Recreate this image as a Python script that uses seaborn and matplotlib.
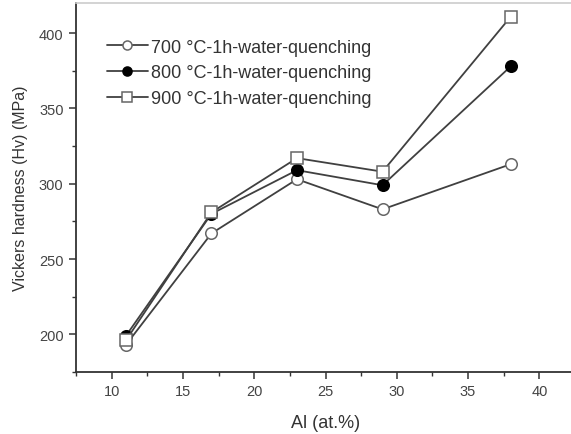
import matplotlib
matplotlib.use("Agg")
import matplotlib.pyplot as plt
from matplotlib.ticker import MultipleLocator
import seaborn as sns
import pandas as pd

al = [11, 17, 23, 29, 38]
hv_700 = [193, 267, 303, 283, 313]
hv_800 = [199, 280, 309, 299, 378]
hv_900 = [196, 281, 317, 308, 411]
labels = ["700 \u00b0C-1h-water-quenching",
          "800 \u00b0C-1h-water-quenching",
          "900 \u00b0C-1h-water-quenching"]

sns.set_theme(style="white")
plt.rcParams['font.family'] = ['Liberation Sans', 'DejaVu Sans']

fig = plt.figure(figsize=(5.71, 4.35), dpi=100)
ax = fig.add_axes([76/571, 1-373/435, (575-76)/571, (373-4)/435])

line_c = "#404040"
edge_c = "#666666"
specs = [
    ("o", "white", edge_c),
    ("o", "black", "black"),
    ("s", "white", edge_c),
]
for vals, lab, (m, fc, ec) in zip([hv_700, hv_800, hv_900], labels, specs):
    df = pd.DataFrame({"Al": al, "Hv": vals})
    sns.lineplot(data=df, x="Al", y="Hv", ax=ax, color=line_c, lw=1.3,
                 marker=m, markersize=8.3 if m == "o" else 8,
                 markerfacecolor=fc, markeredgecolor=ec, markeredgewidth=1.1,
                 label=lab)

ax.set_xlim(7.5, 42.5)
ax.set_ylim(175, 420)
ax.xaxis.set_major_locator(MultipleLocator(5))
ax.xaxis.set_minor_locator(MultipleLocator(2.5))
ax.yaxis.set_major_locator(MultipleLocator(50))
ax.yaxis.set_minor_locator(MultipleLocator(25))
ax.tick_params(which="major", direction="out", length=5, width=1.1,
               color="#333333", labelsize=10.5, labelcolor="#444444",
               bottom=True, left=True, pad=4)
ax.tick_params(which="minor", direction="out", length=3, width=1.0,
               color="#333333", bottom=True, left=True)
for s in ["left", "bottom"]:
    ax.spines[s].set_color("#333333")
    ax.spines[s].set_linewidth(1.3)
ax.spines["top"].set_color("#cccccc")
ax.spines["top"].set_linewidth(1.2)
ax.spines["right"].set_visible(False)

ax.set_xlabel("Al (at.%)", fontsize=13, color="#333333", labelpad=11)
ax.set_ylabel("Vickers hardness (Hv) (MPa)", fontsize=11.5, color="#333333", labelpad=8)

leg = ax.legend(loc="upper left", bbox_to_anchor=(0.062, 0.903), frameon=False,
                fontsize=13, handlelength=2.25, handletextpad=0.2,
                labelspacing=0.48, borderaxespad=0, borderpad=0)
for t in leg.get_texts():
    t.set_color("#333333")
for h in leg.legend_handles:
    h.set_markersize(6.5)

fig.savefig("out.png", dpi=100)
